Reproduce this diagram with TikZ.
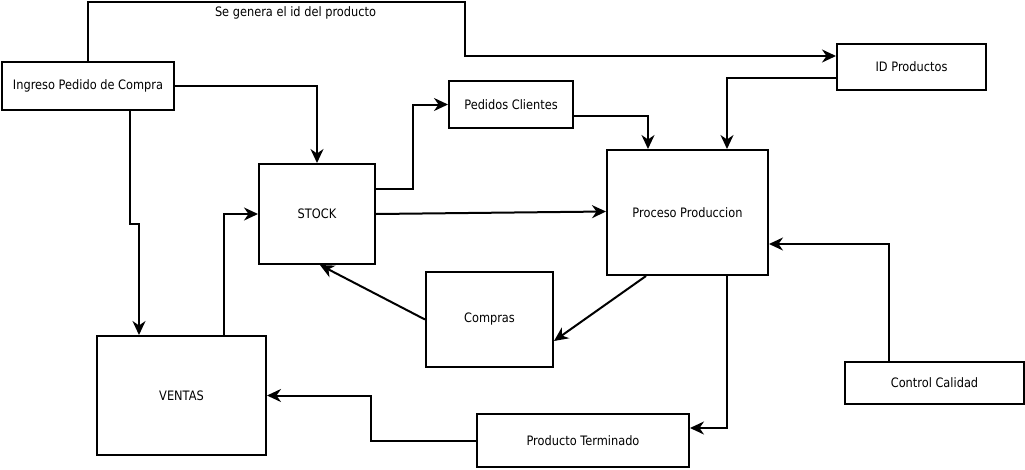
\documentclass[tikz,border=0pt]{standalone}
\usepackage{fontspec}
\setmainfont{DejaVu Sans}[FakeStretch=0.875]
\usetikzlibrary{arrows.meta}
\begin{document}
\begin{tikzpicture}[x=1pt,y=-1pt,
  box/.style={draw,line width=2pt,fill=white,inner sep=0pt,font=\fontsize{13}{15}\selectfont},
  arr/.style={line width=2pt,-{Stealth[length=14pt,width=13pt,inset=4.5pt]}},
  lbl/.style={font=\fontsize{13}{15}\selectfont}]
\useasboundingbox[fill=white] (0,0) rectangle (1025,469);
\node[box,minimum width=172pt,minimum height=48pt] (ingreso) at (88,86) {Ingreso Pedido de Compra};
\node[box,minimum width=149pt,minimum height=46pt] (idp) at (911.5,67) {ID Productos};
\node[box,minimum width=124pt,minimum height=47pt] (pedidos) at (511,104.5) {Pedidos Clientes};
\node[box,minimum width=161pt,minimum height=125pt] (proc) at (687.5,212.5) {Proceso Produccion};
\node[box,minimum width=116pt,minimum height=100pt] (stock) at (317,214) {STOCK};
\node[box,minimum width=169pt,minimum height=119pt] (ventas) at (181.5,395.5) {VENTAS};
\node[box,minimum width=127pt,minimum height=95pt] (compras) at (489.5,319.5) {Compras};
\node[box,minimum width=212pt,minimum height=53pt] (prod) at (583,440.5) {Producto Terminado};
\node[box,minimum width=179pt,minimum height=42pt] (control) at (934.5,383) {Control Calidad};
\node[lbl] (lab) at (295.5,13) {Se genera el id del producto};
% connectors
\draw[arr] (ingreso.north) |- (465,2) |- ([yshift=11pt]idp.west);
\draw[arr] ([yshift=-11pt]idp.west) -| ([xshift=39.5pt]proc.north);
\draw[arr] ([yshift=-11.5pt]pedidos.east) -| ([xshift=-39.5pt]proc.north);
\draw[arr] (ingreso.east) -| (stock.north);
\draw[arr] ([yshift=25pt]stock.east) -- ++(37,0) |- (pedidos.west);
\draw[arr] (stock.east) -- ([yshift=1pt]proc.west);
\draw[arr] ([xshift=42.5pt]ventas.north) |- (stock.west);
\draw[arr] ([xshift=42pt]ingreso.south) -- ++(0,113) -- ++(9,0) -- ([xshift=-42.5pt]ventas.north);
\draw[arr] (compras.west) -- ([xshift=3pt]stock.south);
\draw[arr] ([xshift=-41.5pt]proc.south) -- ([yshift=-21.5pt]compras.east);
\draw[arr] ([xshift=39.5pt]proc.south) |- ([yshift=12.5pt]prod.east);
\draw[arr] (prod.west) -- ++(-105,0) |- (ventas.east);
\draw[arr] ([xshift=-45.5pt]control.north) |- ([yshift=-31.5pt]proc.east);
\end{tikzpicture}
\end{document}
